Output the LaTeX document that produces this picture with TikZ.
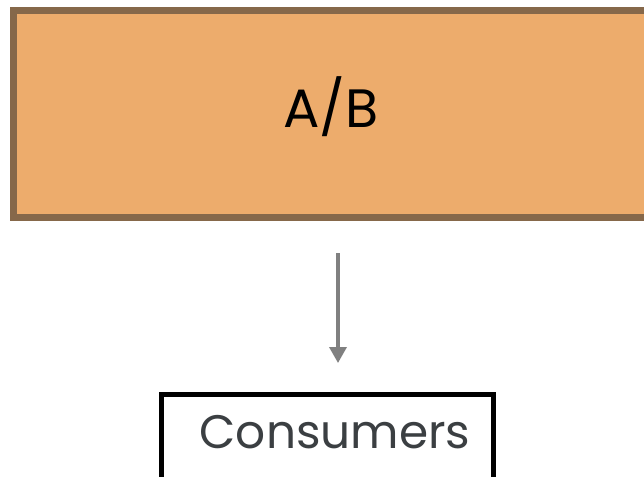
\documentclass[tikz,border=0pt]{standalone}
\usepackage{fontspec}
\setmainfont{Poppins}
\usetikzlibrary{arrows.meta}
\definecolor{boxfill}{HTML}{EDAC6C}
\definecolor{boxline}{HTML}{86684A}
\definecolor{arrgray}{HTML}{808080}
\definecolor{txtgray}{HTML}{3B3F42}
\tikzset{
  abbox/.style={draw=boxline, fill=boxfill, line width=7pt, minimum width=635pt, minimum height=206.5pt, inner sep=0pt},
  consbox/.style={draw=black, fill=white, line width=5pt, minimum width=332.5pt, minimum height=110pt, inner sep=0pt},
  arr/.style={draw=arrgray, line width=3.5pt, -{Triangle[width=17pt,length=16pt]}},
}
\begin{document}
\begin{tikzpicture}[x=1pt,y=-1pt]
\useasboundingbox (0,0) rectangle (644,476);
\clip (0,0) rectangle (644,476);
\fill[white] (0,0) rectangle (644,476);
\node[abbox, anchor=north west] (box) at (10,7) {};
\node[anchor=base, font=\fontsize{54}{60}\selectfont, text=black] (ab) at (331,127) {A/B};
\node[consbox, anchor=north west] (cons) at (158.5,392) {};
\node[anchor=base, font=\fontsize{47}{54}\selectfont, text=txtgray] (ct) at (335,448) {Consumers};
\coordinate (arrx) at (338,0);
\draw[arr, shorten <=32.5pt, shorten >=29pt] (box.south -| arrx) -- (cons.north -| arrx);
\end{tikzpicture}
\end{document}
